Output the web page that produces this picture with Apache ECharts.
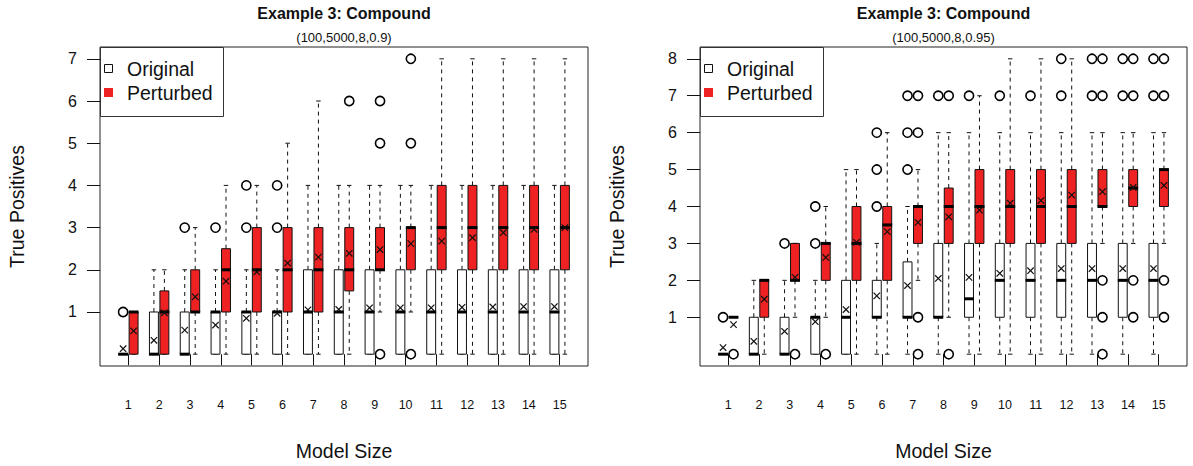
<!DOCTYPE html>
<html>
<head>
<meta charset="utf-8">
<script src="https://cdn.jsdelivr.net/npm/echarts@6/dist/echarts.min.js"></script>
<style>
html,body{margin:0;padding:0;background:#fff;}
#chart{width:1193px;height:466px;}
</style>
</head>
<body>
<div id="chart"></div>
<script>
// ---------- DATA ----------
const categories = [1,2,3,4,5,6,7,8,9,10,11,12,13,14,15];
const yTicksLeft = [1,2,3,4,5,6,7];
const yTicksRight = [1,2,3,4,5,6,7,8];
const titleText = 'Example 3: Compound';
const subtitleLeft = '(100,5000,8,0.9)';
const subtitleRight = '(100,5000,8,0.95)';
const xName = 'Model Size';
const yName = 'True Positives';
const legendNames = ['Original', 'Perturbed'];

// stats: [lower whisker, Q1, median, Q3, upper whisker]
// Panel (100,5000,8,0.9)
const origStats09 = [
  [0,0,0,0,0],[0,0,0,1,2],[0,0,0,1,2],[0,0,1,1,2],[0,0,1,1,2],
  [0,0,1,1,2],[0,0,1,2,4],[0,0,1,2,4],[0,0,1,2,4],[0,0,1,2,4],
  [0,0,1,2,4],[0,0,1,2,4],[0,0,1,2,4],[0,0,1,2,4],[0,0,1,2,4]
];
const origMeans09 = [0.13,0.33,0.57,0.69,0.85,0.97,1.05,1.06,1.10,1.10,1.10,1.11,1.12,1.13,1.13];
const origOutliers09 = [[1],[],[3],[3],[3,4],[3,4],[],[],[],[],[],[],[],[],[]];

const pertStats09 = [
  [0,0,1,1,1],[0,0,1,1.5,2],[0,1,1,2,3],[0,1,2,2.5,4],[0,1,2,3,4],
  [0,1,2,3,5],[0,1,2,3,6],[0,1.5,2,3,4],[1,2,2,3,4],[1,2,3,3,4],
  [0,2,3,4,7],[0,2,3,4,7],[0,2,3,4,7],[0,2,3,4,7],[0,2,3,4,7]
];
const pertMeans09 = [0.55,0.98,1.36,1.73,1.95,2.16,2.30,2.39,2.48,2.62,2.68,2.76,2.88,2.96,3.00];
const pertOutliers09 = [[],[],[],[],[],[],[],[6],[0,5,6],[0,5,7],[],[],[],[],[]];

// Panel (100,5000,8,0.95)
const origStats095 = [
  [0,0,0,0,0],[0,0,0,1,2],[0,0,0,1,2],[0,0,1,1,2],[0,0,1,2,5],
  [0,1,1,2,3],[0,1,1,2.5,4],[0,1,1,3,6],[0,1,1.5,3,6],[0,1,2,3,6],
  [0,1,2,3,6],[0,1,2,3,6],[0,1,2,3,6],[0,1,2,3,6],[0,1,2,3,6]
];
const origMeans095 = [0.18,0.35,0.62,0.88,1.21,1.58,1.86,2.05,2.08,2.19,2.26,2.32,2.32,2.32,2.32];
const origOutliers095 = [[1],[],[3],[3,4],[],[4,5,6],[5,6,7],[7],[7],[7],[7],[7,8],[7,8],[7,8],[7,8]];

const pertStats095 = [
  [1,1,1,1,1],[0,1,2,2,2],[1,2,2,3,3],[1,2,3,3,4],[0,2,3,4,5],
  [0,2,3.5,4,6],[2,3,4,4,5],[1,3,4,4.5,6],[0,3,4,5,7],[0,3,4,5,8],
  [0,3,4,5,8],[0,3,4,5,8],[3,4,4,5,6],[3,4,4.5,5,6],[3,4,5,5,6]
];
const pertMeans095 = [0.80,1.49,2.08,2.62,3.03,3.32,3.57,3.72,3.90,4.09,4.16,4.31,4.40,4.52,4.57];
const pertOutliers095 = [[0],[],[0],[0],[],[],[0,1,6,7],[0,7],[],[],[],[],[0,1,2,7,8],[1,2,7,8],[1,2,7,8]];

// ---------- STYLE ----------
const FONT = 'Liberation Sans, Arial, Helvetica, sans-serif';
const RED = '#EE2222';
const INK = '#111';
const OFFSET = 0.17;     // box offset from category centre (axis units)
const HALFW = 0.145;     // half box width (axis units)

function boxData(stats){ return categories.map((c,i)=>[c].concat(stats[i])); }
function meanData(means){ return categories.map((c,i)=>[c, means[i]]); }
function outData(outs){
  const d=[]; categories.forEach((c,i)=>outs[i].forEach(v=>d.push([c,v]))); return d;
}

function boxRender(offset, fill){
  return function(params, api){
    const x = api.value(0) + offset;
    const unit = api.size([1,0])[0];
    const hw = unit*HALFW, sw = hw*0.5;
    const cx = api.coord([x,0])[0];
    const y = [1,2,3,4,5].map(i=>api.coord([x, api.value(i)])[1]);
    const dash = {stroke:INK, lineWidth:1, lineDash:[4,4]};
    const solid = {stroke:INK, lineWidth:1};
    return {type:'group', children:[
      {type:'line', shape:{x1:cx,y1:y[3],x2:cx,y2:y[4]}, style:dash},
      {type:'line', shape:{x1:cx,y1:y[1],x2:cx,y2:y[0]}, style:dash},
      {type:'line', shape:{x1:cx-sw,y1:y[4],x2:cx+sw,y2:y[4]}, style:solid},
      {type:'line', shape:{x1:cx-sw,y1:y[0],x2:cx+sw,y2:y[0]}, style:solid},
      {type:'rect', shape:{x:cx-hw, y:y[3], width:2*hw, height:Math.max(0,y[1]-y[3])},
        style:{fill:fill, stroke:INK, lineWidth:1}},
      {type:'line', shape:{x1:cx-hw-0.5,y1:y[2],x2:cx+hw+0.5,y2:y[2]}, style:{stroke:'#000', lineWidth:3}}
    ]};
  };
}
function outRender(offset){
  return function(params, api){
    const p = api.coord([api.value(0)+offset, api.value(1)]);
    return {type:'circle', shape:{cx:p[0], cy:p[1], r:4.6}, style:{fill:'none', stroke:'#000', lineWidth:1.6}};
  };
}
function meanRender(offset){
  return function(params, api){
    const p = api.coord([api.value(0)+offset, api.value(1)]);
    const s = 3.2;
    return {type:'group', children:[
      {type:'line', shape:{x1:p[0]-s,y1:p[1]-s,x2:p[0]+s,y2:p[1]+s}, style:{stroke:INK, lineWidth:1.2}},
      {type:'line', shape:{x1:p[0]-s,y1:p[1]+s,x2:p[0]+s,y2:p[1]-s}, style:{stroke:INK, lineWidth:1.2}}
    ]};
  };
}

function panelSeries(idx, oStats, oMeans, oOut, pStats, pMeans, pOut){
  const base = {type:'custom', xAxisIndex:idx, yAxisIndex:idx, animation:false, silent:true};
  return [
    Object.assign({}, base, {name:legendNames[0], renderItem:boxRender(-OFFSET,'#fff'), data:boxData(oStats), z:2}),
    Object.assign({}, base, {name:legendNames[0], renderItem:outRender(-OFFSET), data:outData(oOut), z:3}),
    Object.assign({}, base, {name:legendNames[1], renderItem:boxRender(OFFSET,RED), data:boxData(pStats), z:2}),
    Object.assign({}, base, {name:legendNames[1], renderItem:outRender(OFFSET), data:outData(pOut), z:3}),
    Object.assign({}, base, {name:legendNames[0], renderItem:meanRender(-OFFSET), data:meanData(oMeans), z:4}),
    Object.assign({}, base, {name:legendNames[1], renderItem:meanRender(OFFSET), data:meanData(pMeans), z:4})
  ];
}

function xAxisCfg(idx){
  return {
    type:'value', gridIndex:idx, min:0.08, max:15.92, offset:5,
    axisLine:{show:false}, splitLine:{show:false},
    axisTick:{show:true, customValues:categories, length:11, lineStyle:{color:INK, width:1}},
    axisLabel:{customValues:categories, fontSize:12.5, color:INK, fontFamily:'Liberation Sans', margin:27},
    name:xName, nameLocation:'middle', nameGap:70,
    nameTextStyle:{fontSize:19.5, color:INK, fontFamily:FONT}
  };
}
function yAxisCfg(idx, ticks, min, max){
  return {
    type:'value', gridIndex:idx, min:min, max:max,
    axisLine:{show:false}, splitLine:{show:false},
    axisTick:{show:true, customValues:ticks, length:13, lineStyle:{color:INK, width:1}},
    axisLabel:{customValues:ticks, fontSize:16, color:INK, fontFamily:FONT, margin:23},
    name:yName, nameLocation:'middle', nameGap:73,
    nameTextStyle:{fontSize:19.5, color:INK, fontFamily:FONT}
  };
}

function legendGraphic(left){
  return [
    {type:'rect', z:100, shape:{x:left+0.5, y:47.5, width:123, height:69}, style:{fill:'#fff', stroke:'#333', lineWidth:1}},
    {type:'rect', z:101, shape:{x:left+4.5, y:64.5, width:8, height:8}, style:{fill:'#fff', stroke:INK, lineWidth:1}},
    {type:'rect', z:101, shape:{x:left+4, y:88, width:9, height:9}, style:{fill:RED}},
    {type:'text', z:101, x:left+27, y:68.5, style:{text:legendNames[0], fill:INK, font:'19.5px '+FONT, textVerticalAlign:'middle', verticalAlign:'middle'}},
    {type:'text', z:101, x:left+27, y:92.5, style:{text:legendNames[1], fill:INK, font:'19.5px '+FONT, textVerticalAlign:'middle', verticalAlign:'middle'}}
  ];
}

const chart = echarts.init(document.getElementById('chart'), null, {renderer:'svg', width:1193, height:466});
chart.setOption({
  animation:false,
  backgroundColor:'#fff',
  textStyle:{fontFamily:FONT},
  title:[
    {text:titleText, left:344, top:5, textAlign:'center', padding:0, textStyle:{fontSize:16, fontWeight:'bold', color:INK, fontFamily:FONT}},
    {text:subtitleLeft, left:344, top:31, textAlign:'center', padding:0, textStyle:{fontSize:13, fontWeight:'normal', color:INK, fontFamily:FONT}},
    {text:titleText, left:943.5, top:5, textAlign:'center', padding:0, textStyle:{fontSize:16, fontWeight:'bold', color:INK, fontFamily:FONT}},
    {text:subtitleRight, left:943.5, top:31, textAlign:'center', padding:0, textStyle:{fontSize:13, fontWeight:'normal', color:INK, fontFamily:FONT}}
  ],
  grid:[
    {left:100, top:47, width:488, height:319, show:true, borderColor:'#222', borderWidth:1, backgroundColor:'transparent', containLabel:false},
    {left:700, top:47, width:487, height:319, show:true, borderColor:'#222', borderWidth:1, backgroundColor:'transparent', containLabel:false}
  ],
  xAxis:[xAxisCfg(0), xAxisCfg(1)],
  yAxis:[yAxisCfg(0, yTicksLeft, -0.28, 7.28), yAxisCfg(1, yTicksRight, -0.32, 8.32)],
  graphic:legendGraphic(100).concat(legendGraphic(700)),
  series:panelSeries(0, origStats09, origMeans09, origOutliers09, pertStats09, pertMeans09, pertOutliers09)
    .concat(panelSeries(1, origStats095, origMeans095, origOutliers095, pertStats095, pertMeans095, pertOutliers095))
});
</script>
</body>
</html>
